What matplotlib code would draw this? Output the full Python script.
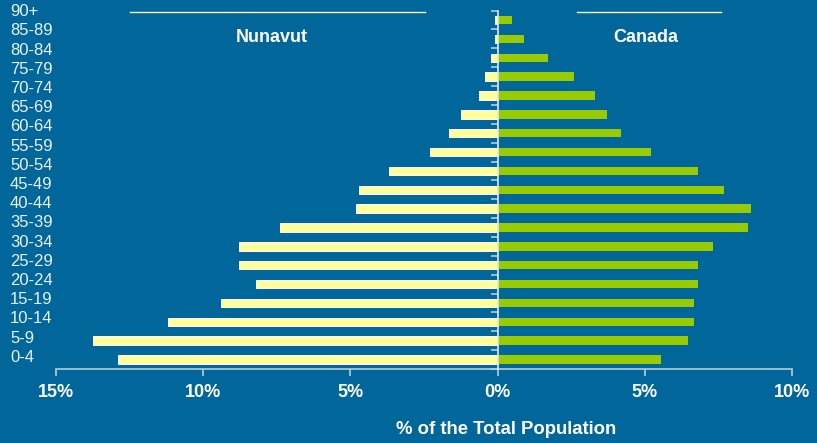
import matplotlib
matplotlib.use("Agg")
import matplotlib.pyplot as plt
from matplotlib.lines import Line2D
import numpy as np

plt.rcParams['font.family'] = ['Liberation Sans', 'DejaVu Sans']

age_groups = ["0-4", "5-9", "10-14", "15-19", "20-24", "25-29", "30-34", "35-39",
              "40-44", "45-49", "50-54", "55-59", "60-64", "65-69", "70-74",
              "75-79", "80-84", "85-89", "90+"]
nunavut = [12.9, 13.75, 11.2, 9.4, 8.2, 8.8, 8.8, 7.4, 4.8, 4.7, 3.7, 2.3,
           1.64, 1.23, 0.62, 0.42, 0.22, 0.1, 0.1]
canada = [5.55, 6.47, 6.68, 6.68, 6.8, 6.8, 7.3, 8.5, 8.6, 7.68, 6.8, 5.2,
          4.18, 3.7, 3.3, 2.58, 1.7, 0.88, 0.48]
x_ticks = [-15, -10, -5, 0, 5, 10]
x_tick_labels = ["15%", "10%", "5%", "0%", "5%", "10%"]

BG = '#016699'
YELLOW = '#FFFF99'
GREEN = '#99CC00'
AXIS = '#B8CCDA'
TEXT = '#EAF1F6'

W, H = 817, 443
fig = plt.figure(figsize=(W / 100, H / 100), dpi=100, facecolor=BG)
ax = fig.add_axes([56 / W, (H - 369) / H, 736 / W, (369 - 10.6) / H])
ax.set_facecolor(BG)

y = np.arange(len(age_groups))
ax.barh(y, [-v for v in nunavut], height=0.45, color=YELLOW,
        edgecolor='#FFFFFF', linewidth=0.7, zorder=2)
ax.barh(y, canada, height=0.45, color=GREEN, linewidth=0, zorder=2)

ax.set_xlim(-15, 10)
ax.set_ylim(-0.5, len(age_groups) - 0.5)

for s in ['top', 'right']:
    ax.spines[s].set_visible(False)
ax.spines['left'].set_position(('data', 0))
ax.spines['left'].set_color('#DDE8F0')
ax.spines['left'].set_linewidth(1.2)
ax.spines['left'].set_zorder(3)
ax.spines['bottom'].set_color(AXIS)
ax.spines['bottom'].set_linewidth(1.2)

ax.set_xticks(x_ticks)
ax.set_xticklabels(x_tick_labels, fontsize=13, fontweight='bold', color='white')
ax.tick_params(axis='x', direction='out', length=5, width=1.2, color=AXIS, pad=5.5)

ax.set_yticks(y)
ax.set_yticklabels([])
ax.tick_params(axis='y', which='major', length=0)
ax.set_yticks(np.arange(len(age_groups) + 1) - 0.5, minor=True)
ax.tick_params(axis='y', which='minor', direction='out', length=5, width=1.2, color=AXIS)

# category labels sit in their own column, spaced slightly wider than the bars
n = len(age_groups)
top_px, bottom_px = 11.7, 357.3
for i, lab in enumerate(age_groups):
    py = bottom_px - i * (bottom_px - top_px) / (n - 1)
    fig.text(10 / W, 1 - py / H, lab, ha='left', va='center',
             fontsize=12, color=TEXT)

fig.text(272 / W, 1 - 37 / H, "Nunavut", ha='center', va='center',
         fontsize=13, fontweight='bold', color='white')
fig.text(646 / W, 1 - 37 / H, "Canada", ha='center', va='center',
         fontsize=13, fontweight='bold', color='white')
fig.add_artist(Line2D([130 / W, 425 / W], [1 - 12 / H, 1 - 12 / H],
                      color='white', linewidth=1))
fig.add_artist(Line2D([577 / W, 721 / W], [1 - 12 / H, 1 - 12 / H],
                      color='white', linewidth=1))

fig.text(506 / W, 1 - 429 / H, "% of the Total Population", ha='center', va='center',
         fontsize=13.3, fontweight='bold', color='white')

fig.savefig("out.png", dpi=100, facecolor=BG)
